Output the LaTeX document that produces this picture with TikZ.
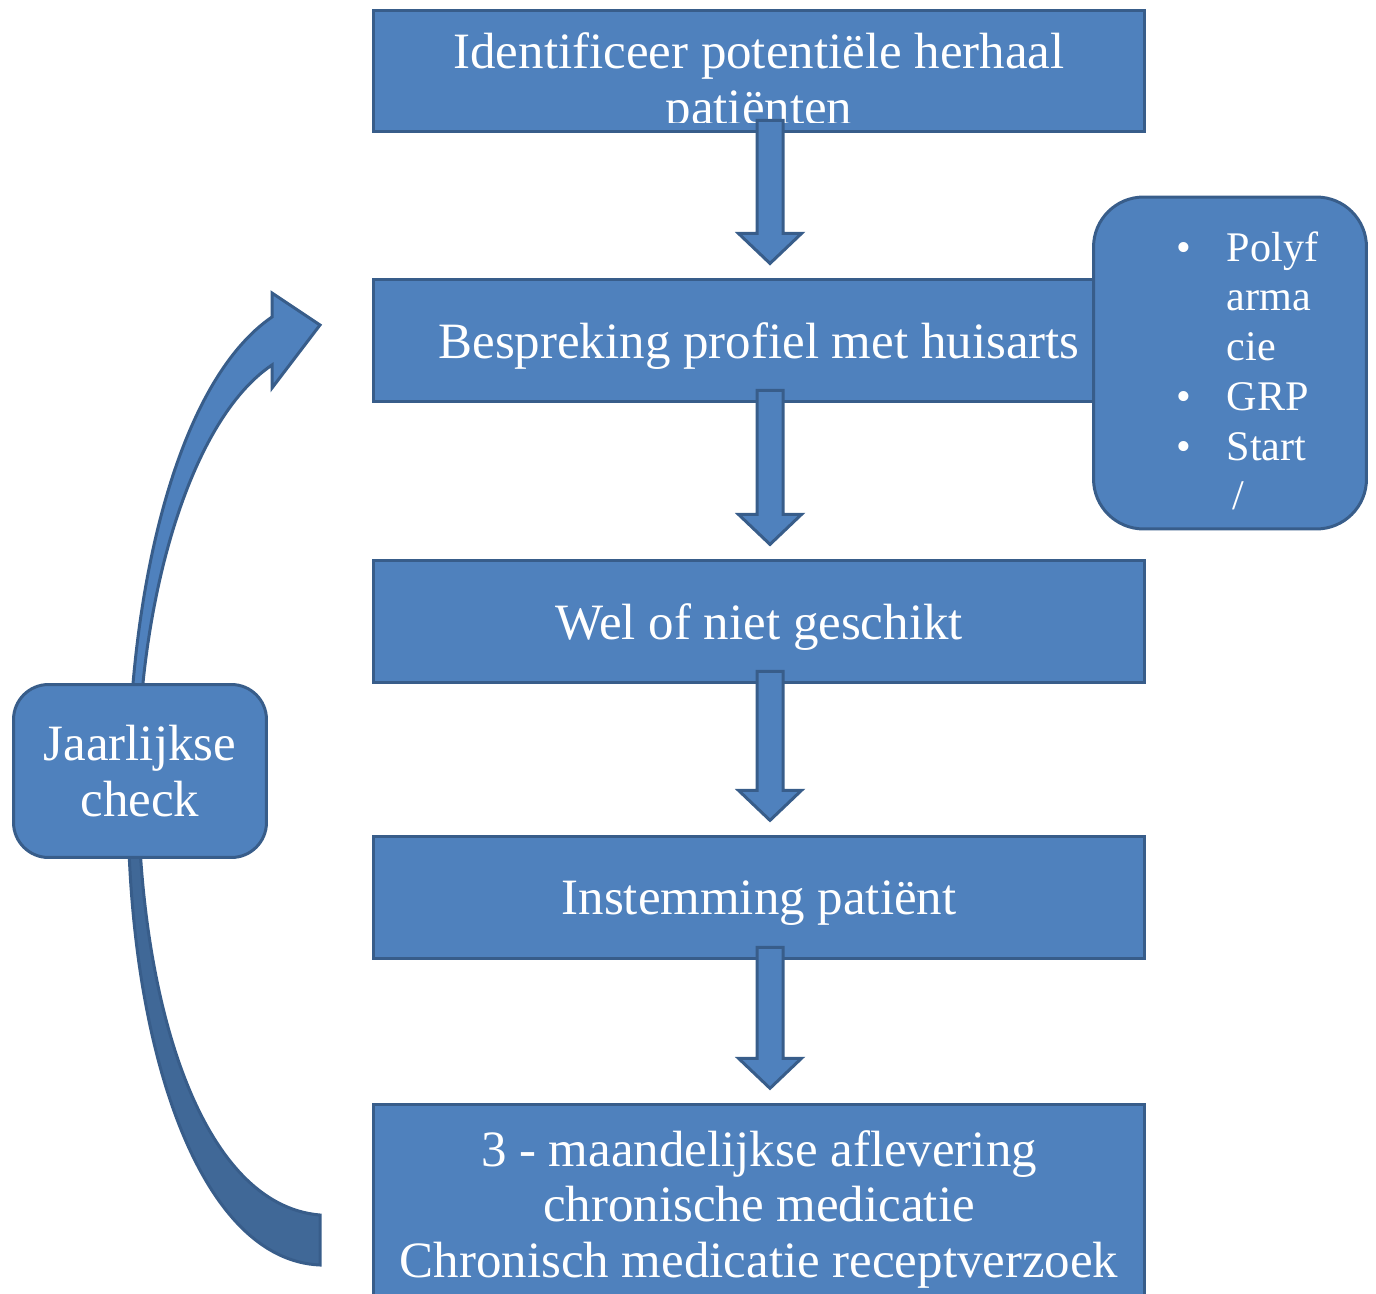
\documentclass[tikz,border=0pt]{standalone}
\usepackage{fontspec}
\setmainfont{Liberation Serif}
\usetikzlibrary{positioning}
\usetikzlibrary{calc}
\definecolor{boxfill}{HTML}{4F81BD}
\definecolor{boxline}{HTML}{385D8A}
\definecolor{boxshade}{HTML}{406897}
\tikzset{
	flow/.style={
		rectangle,
		draw=boxline,
		fill=boxfill,
		line width=0.06cm,
		text=white,
		align=center,
		inner sep=0pt,
		text depth=0pt,
		minimum width=15.42cm,
		minimum height=2.44cm,
		font=\fontsize{29}{31.7}\selectfont
	},
	flowtext/.style={
		text=white,
		align=center,
		inner sep=0pt,
		font=\fontsize{29}{31.7}\selectfont
	},
	roundbox/.style={
		rectangle,
		draw=boxline,
		fill=boxfill,
		line width=0.06cm,
		rounded corners=0.7cm,
		text=white,
		align=center,
		inner sep=0pt,
		font=\fontsize{29}{31.7}\selectfont
	},
	flowarrow/.style={
		draw=boxline,
		fill=boxfill,
		line width=0.06cm,
		line join=miter
	}
}
% fat arrow from the bottom of one box to the top of the next
\newcommand{\downarrowbox}[2]{%
	\draw[flowarrow] let \p1=([xshift=0.22cm,yshift=0.26cm]#1.south), \p2=([xshift=0.22cm,yshift=0.3cm]#2.north) in
		(\x1-0.26cm,\y1) -- (\x1+0.26cm,\y1) -- (\x1+0.26cm,\y2+0.6cm) -- (\x1+0.63cm,\y2+0.6cm)
		-- (\x1,\y2) -- (\x1-0.63cm,\y2+0.6cm) -- (\x1-0.26cm,\y2+0.6cm) -- cycle;
}

\begin{document}
\begin{tikzpicture}[x=0.02cm, y=-0.02cm]
	\useasboundingbox (0,0) rectangle (1376,1294);

	% yearly loop back to the top
	\draw[flowarrow, path picture={\fill[boxshade] (0,770) rectangle (400,1300);}]
		(320,1265) .. controls (200,1260) and (128,1050) .. (128,800)
		.. controls (128,580) and (180,380) .. (272,317)
		-- (272,293) -- (320,325) -- (272,388) -- (272,365)
		.. controls (190,420) and (138,600) .. (138,780)
		.. controls (138,1000) and (200,1205) .. (320,1215) -- cycle;
	\draw node[roundbox, minimum width=5.06cm, minimum height=3.46cm] (jaarlijks) at (140,771) {Jaarlijkse\\ check};

	\draw node[flow] (identify) at (759,71) {};
	\begin{scope}
		\clip (identify.north west) rectangle ([yshift=0.22cm]identify.south east);
		\draw node[flowtext] (identifytext) at ([yshift=-0.26cm]identify.center) {Identificeer potentiële herhaal\\ patiënten};
	\end{scope}
	\draw node[flow, below=2.9cm of identify] (bespreking) {Bespreking profiel met huisarts};
	\draw node[flow, below=3.12cm of bespreking] (geschikt) {Wel of niet geschikt};
	\draw node[flow, below=3.02cm of geschikt] (instemming) {Instemming patiënt};
	\draw node[flow, minimum height=3.96cm, below=2.86cm of instemming] (aflevering) {3 - maandelijkse aflevering\\ chronische medicatie\\ Chronisch medicatie receptverzoek};

	\draw node[roundbox, rounded corners=1cm, minimum width=5.46cm, minimum height=6.64cm, text width=5.3cm, align=left, font=\fontsize{24}{28.3}\selectfont] (criteria) at (1230,363)
		{\hspace*{1.57cm}\begin{tabular}{@{}l@{\hspace{0.72cm}}l@{}}\rule{0pt}{1.2cm}\textbullet & Polyf\\ & arma\\ & cie\\ \textbullet & GRP\\ \textbullet & Start\\ & \hspace{0.12cm}/\end{tabular}};

	\downarrowbox{identify}{bespreking}
	\downarrowbox{bespreking}{geschikt}
	\downarrowbox{geschikt}{instemming}
	\downarrowbox{instemming}{aflevering}
\end{tikzpicture}
\end{document}
